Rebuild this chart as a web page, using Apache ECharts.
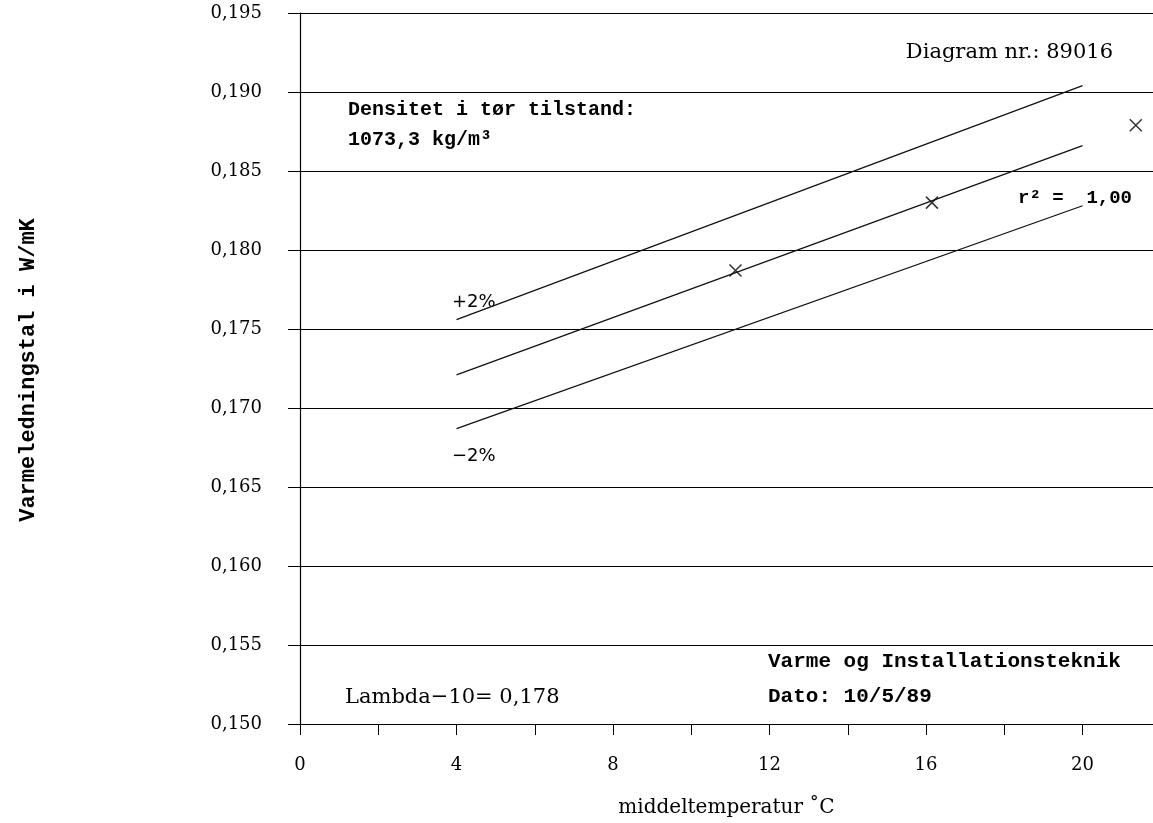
<!DOCTYPE html>
<html>
<head>
<meta charset="utf-8">
<title>Varmeledningstal</title>
<script src="https://cdn.jsdelivr.net/npm/echarts@6/dist/echarts.min.js"></script>
<style>
  html, body { margin: 0; padding: 0; background: #fff; }
  #chart { width: 1153px; height: 823px; }
</style>
</head>
<body>
<div id="chart"></div>
<script>
// regression line and the +/-2% band at T = 4 and T = 20
const fitX = [4, 20];
const fitMid = [0.1721, 0.1866];
const fitPlus = [0.1756, 0.1904];
const fitMinus = [0.1687, 0.1828];

// measured points (x marks)
const measX = [11.13, 16.15, 21.36];
const measY = [0.1787, 0.1830, 0.1879];

const serifFont = '"DejaVu Serif", "Liberation Serif", serif';
const monoFont = '"Liberation Mono", "DejaVu Sans Mono", monospace';

const toPairs = (xs, ys) => xs.map((x, i) => [x, ys[i]]);

const lineSeries = (name, ys) => ({
  type: 'line',
  name: name,
  data: toPairs(fitX, ys),
  symbol: 'none',
  silent: true,
  lineStyle: { color: '#111', width: 1.3 },
});

const chart = echarts.init(document.getElementById('chart'));

const option = {
  backgroundColor: '#fff',
  animation: false,
  grid: { left: 300, right: 0, top: 13, bottom: 94 },
  xAxis: {
    type: 'value',
    min: 0,
    max: 21.8,
    interval: 2,
    name: 'middeltemperatur \u02daC',
    nameLocation: 'middle',
    nameGap: 74,
    nameTextStyle: { fontFamily: serifFont, fontSize: 20, color: '#000' },
    axisLine: { lineStyle: { color: '#000', width: 1.2 } },
    axisTick: { length: 11, lineStyle: { color: '#000' } },
    splitLine: { show: false },
    axisLabel: {
      margin: 32,
      fontFamily: serifFont,
      fontSize: 18,
      color: '#000',
      showMaxLabel: false,
      formatter: (v) => (v % 4 === 0 ? String(v) : ''),
    },
  },
  yAxis: {
    type: 'value',
    min: 0.15,
    max: 0.195,
    interval: 0.005,
    axisLine: { show: true, lineStyle: { color: '#000', width: 1.2 } },
    axisTick: { length: 12, lineStyle: { color: '#000' } },
    splitLine: { show: true, lineStyle: { color: '#000', width: 1.2 } },
    axisLabel: {
      margin: 38,
      fontFamily: serifFont,
      fontSize: 18,
      color: '#000',
      formatter: (v) => v.toFixed(3).replace('.', ','),
    },
  },
  series: [
    lineSeries('+2%', fitPlus),
    lineSeries('regression', fitMid),
    lineSeries('-2%', fitMinus),
    {
      type: 'scatter',
      name: 'målt',
      data: toPairs(measX, measY),
      symbol: 'path://M0,0L10,10M10,0L0,10',
      symbolSize: 12,
      itemStyle: { color: 'rgba(0,0,0,0)', borderColor: '#000', borderWidth: 1.5 },
    },
  ],
  graphic: [
    {
      type: 'text', x: 28, y: 370, rotation: Math.PI / 2,
      style: {
        text: 'Varmeledningstal i W/mK', fontFamily: monoFont, fontSize: 22,
        fontWeight: 'bold', fill: '#000', align: 'center', verticalAlign: 'middle',
      },
    },
    {
      type: 'text', x: 1113, y: 53,
      style: { text: 'Diagram nr.: 89016', fontFamily: serifFont, fontSize: 21, fill: '#000', align: 'right', verticalAlign: 'middle' },
    },
    {
      type: 'text', x: 348, y: 110,
      style: { text: 'Densitet i tør tilstand:', fontFamily: monoFont, fontSize: 20, fontWeight: 'bold', fill: '#000', verticalAlign: 'middle' },
    },
    {
      type: 'text', x: 348, y: 140,
      style: { text: '1073,3 kg/m\u00b3', fontFamily: monoFont, fontSize: 20, fontWeight: 'bold', fill: '#000', verticalAlign: 'middle' },
    },
    {
      type: 'text', x: 1018, y: 198,
      style: { text: 'r\u00b2 =  1,00', fontFamily: monoFont, fontSize: 19, fontWeight: 'bold', fill: '#000', verticalAlign: 'middle' },
    },
    {
      type: 'text', x: 452, y: 302,
      style: { text: '+2%', fontFamily: '"DejaVu Sans", sans-serif', fontSize: 18, fill: '#000', verticalAlign: 'middle' },
    },
    {
      type: 'text', x: 452, y: 456,
      style: { text: '\u22122%', fontFamily: '"DejaVu Sans", sans-serif', fontSize: 18, fill: '#000', verticalAlign: 'middle' },
    },
    {
      type: 'text', x: 768, y: 662,
      style: { text: 'Varme og Installationsteknik', fontFamily: monoFont, fontSize: 21, fontWeight: 'bold', fill: '#000', verticalAlign: 'middle' },
    },
    {
      type: 'text', x: 768, y: 697,
      style: { text: 'Dato: 10/5/89', fontFamily: monoFont, fontSize: 21, fontWeight: 'bold', fill: '#000', verticalAlign: 'middle' },
    },
    {
      type: 'text', x: 345, y: 698,
      style: { text: 'Lambda\u221210= 0,178', fontFamily: serifFont, fontSize: 21, fill: '#000', verticalAlign: 'middle' },
    },
  ],
};

chart.setOption(option);
window.addEventListener('resize', () => chart.resize());
</script>
</body>
</html>
